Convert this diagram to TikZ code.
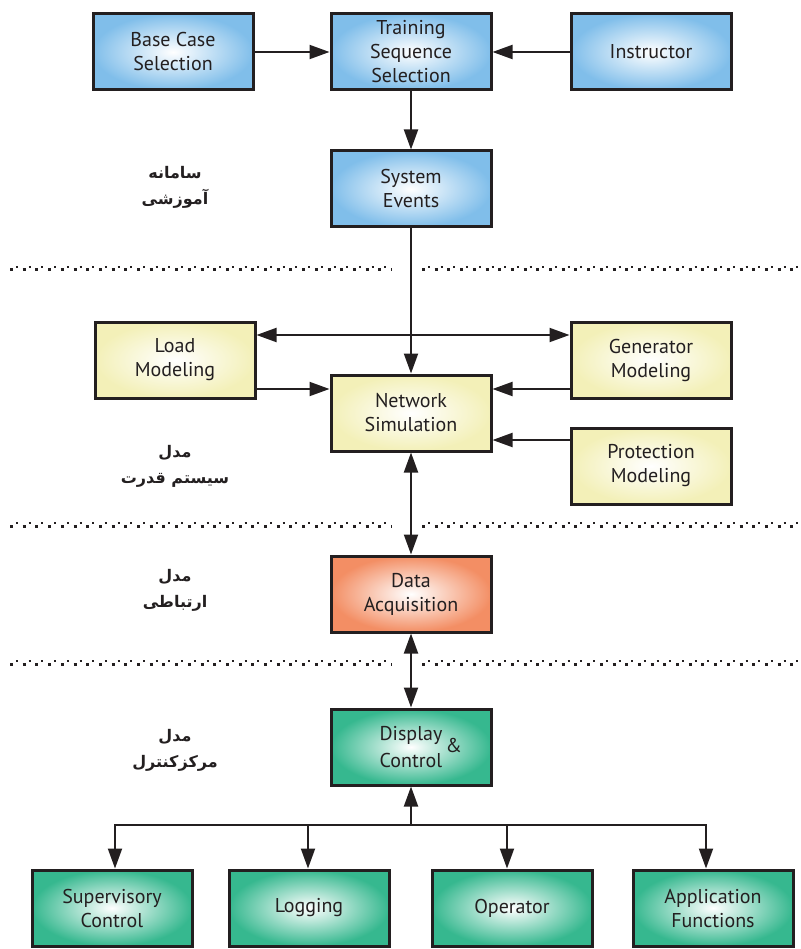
\documentclass[tikz,border=0pt]{standalone}
\usepackage{fontspec}
\setmainfont{PT Sans}
\newfontfamily\farsifont[Script=Arabic]{DejaVu Sans}
\TeXXeTstate=1
\usetikzlibrary{arrows.meta}

\definecolor{inkgray}{RGB}{35,31,32}
\definecolor{blueedge}{RGB}{128,190,234}
\definecolor{yellowedge}{RGB}{243,240,184}
\definecolor{orangeedge}{RGB}{243,142,100}
\definecolor{greenedge}{RGB}{54,184,143}

\tikzset{
  block/.style={draw=inkgray, line width=3pt, inner color=white,
    minimum width=160pt, minimum height=76pt, align=center,
    text=inkgray, font=\fontsize{20}{24}\selectfont},
  blueblock/.style={block, outer color=blueedge},
  yellowblock/.style={block, outer color=yellowedge},
  orangeblock/.style={block, outer color=orangeedge},
  greenblock/.style={block, outer color=greenedge},
  conn/.style={line width=2pt, draw=inkgray},
  arr/.style={conn, -{Triangle[length=20pt,width=14pt]}},
  dblarr/.style={conn, {Triangle[length=20pt,width=14pt]}-{Triangle[length=20pt,width=14pt]}},
  farsi/.style={align=center, text=inkgray,
    font=\farsifont\bfseries\fontsize{16}{26}\selectfont},
  bigdots/.style={line width=3pt, draw=inkgray, dash pattern=on 3pt off 9.7pt},
  smalldots/.style={line width=2pt, draw=inkgray, dash pattern=on 2pt off 10.7pt, dash phase=-6pt}
}

\begin{document}
\begin{tikzpicture}[x=1pt, y=-1pt]
\useasboundingbox (0,0) rectangle (800,949);

% separators
\foreach \y in {270,526,664} {
  \draw[bigdots] (10,\y) -- (392,\y);
  \draw[bigdots] (422,\y) -- (800,\y);
  \draw[smalldots] (10,\y-3) -- (392,\y-3);
  \draw[smalldots] (422,\y-3) -- (800,\y-3);
}

% training system
\node[blueblock] (base) at (173,52) {Base Case\\Selection};
\node[blueblock] (train) at (411,52) {Training\\Sequence\\Selection};
\node[blueblock] (instr) at (651,52) {Instructor};
\node[blueblock] (events) at (411,189) {System\\Events};

% power system model
\node[yellowblock] (load) at (175,360) {Load\\Modeling};
\node[yellowblock] (gen) at (651,360) {Generator\\Modeling};
\node[yellowblock] (sim) at (411,413) {Network\\Simulation};
\node[yellowblock] (prot) at (651,466) {Protection\\Modeling};

% communication model
\node[orangeblock] (acq) at (411,594) {Data\\Acquisition};

% control centre model
\node[greenblock] (disp) at (411,747) {Display\rlap{\raisebox{-12pt}{\,\&}}\\Control};
\node[greenblock] (sup) at (112,908) {Supervisory\\Control};
\node[greenblock] (log) at (309,908) {Logging};
\node[greenblock] (oper) at (512,908) {Operator};
\node[greenblock] (app) at (713,908) {Application\\Functions};

% side labels
\node[farsi] (edulbl) at (175,187) {\beginR سامانه\endR\\\beginR آموزشی\endR};
\node[farsi] (powlbl) at (175,466) {\beginR مدل\endR\\\beginR سیستم قدرت\endR};
\node[farsi] (comlbl) at (175,590) {\beginR مدل\endR\\\beginR ارتباطی\endR};
\node[farsi] (ctllbl) at (175,750) {\beginR مدل\endR\\\beginR مرکزکنترل\endR};

% connectors
\draw[arr] (base) -- (train);
\draw[arr] (instr) -- (train);
\draw[arr] (train) -- (events);
\draw[arr] (events) -- (sim);
\draw[dblarr] ([yshift=25pt]load.east) -- ([yshift=25pt]gen.west);
\coordinate (loadout) at ([yshift=-29pt]load.east);
\coordinate (genout) at ([yshift=-29pt]gen.west);
\coordinate (protout) at ([yshift=26pt]prot.west);
\draw[arr] (loadout) -- (sim.west |- loadout);
\draw[arr] (genout) -- (sim.east |- genout);
\draw[arr] (protout) -- (sim.east |- protout);
\draw[dblarr] (sim) -- (acq);
\draw[dblarr] (acq) -- (disp);

\coordinate (bus) at (411,825);
\coordinate (supin) at ([xshift=3pt]sup.north);
\coordinate (login) at ([xshift=-1pt]log.north);
\coordinate (operin) at ([xshift=-5pt]oper.north);
\coordinate (appin) at ([xshift=-7pt]app.north);
\draw[conn, line cap=rect] (supin |- bus) -- (appin |- bus);
\draw[arr] (bus) -- (disp.south);
\foreach \n in {supin,login,operin,appin}
  \draw[arr] (\n |- bus) -- (\n);

\end{tikzpicture}
\end{document}
